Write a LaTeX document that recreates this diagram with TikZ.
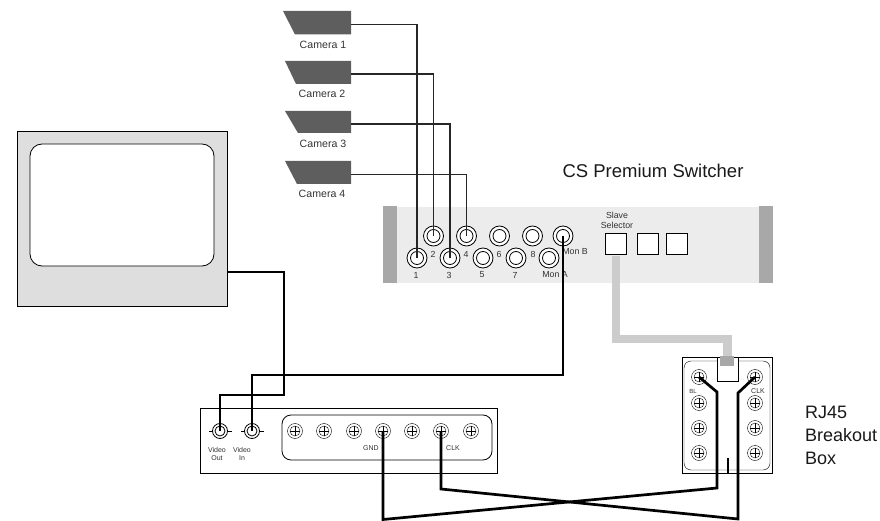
\documentclass[tikz,border=0pt]{standalone}
\usepackage{fontspec}
\setmainfont{Liberation Sans}
\usetikzlibrary{positioning,calc}
\definecolor{panelgray}{HTML}{ECECEC}
\definecolor{bargray}{HTML}{A8A8A8}
\definecolor{cablegray}{HTML}{CCCCCC}
\definecolor{camgray}{HTML}{5E5E5E}
\definecolor{tvgray}{HTML}{DEDEDE}
\begin{document}
\begin{tikzpicture}[x=1pt, y=-1pt, every node/.style={font=\fontsize{10.6}{12}\selectfont, text=black!80, inner sep=0pt, outer sep=0pt}]
\tikzset{jack/.style={draw, circle, thick, minimum size=20pt, fill=white, path picture={\draw (path picture bounding box.center) circle (6.5pt);}}}
\tikzset{screw/.style={draw, circle, minimum size=15pt, fill=white, path picture={\draw (path picture bounding box.center) circle (5pt); \draw ($(path picture bounding box.center)+(-5pt,0pt)$) -- ($(path picture bounding box.center)+(5pt,0pt)$); \draw ($(path picture bounding box.center)+(0pt,-5pt)$) -- ($(path picture bounding box.center)+(0pt,5pt)$);}}}
\tikzset{bnc/.style={draw, circle, thick, minimum size=15pt, fill=white, path picture={\draw (path picture bounding box.center) circle (5pt);}}}
\tikzset{cam/.style={fill=camgray}}
\tikzset{selbtn/.style={draw, thick, minimum width=21pt, minimum height=21pt, fill=white}}
\tikzset{wire/.style={draw, line width=1.3pt, black!85}}
\tikzset{fatwire/.style={draw, line width=2.7pt, black}}
\tikzset{small/.style={font=\fontsize{8.8}{10}\selectfont, align=center}}
\tikzset{tiny/.style={font=\fontsize{7}{8.5}\selectfont, align=center}}
\tikzset{big/.style={font=\fontsize{18}{23}\selectfont, text=black!90}}
\useasboundingbox (0,0) rectangle (880,521);
% monitor
\node[draw, thick, fill=tvgray, minimum width=210pt, minimum height=175pt, anchor=north west] (tv) at (17.5,131) {};
\node[draw, thick, fill=white, rounded corners=12pt, minimum width=184pt, minimum height=122pt, anchor=north west] (screen) at (30,144) {};
% cameras
\fill[cam] (283,11) -- (351,11) -- (351,34.5) -- (295,34.5) -- cycle;
\fill[cam] (285,61) -- (351,61) -- (351,84) -- (296,84) -- cycle;
\fill[cam] (285,111) -- (351,111) -- (351,133) -- (298,133) -- cycle;
\fill[cam] (285,161) -- (351,161) -- (351,184) -- (297,184) -- cycle;
\coordinate (cam1) at (351,24.5);
\coordinate (cam2) at (351,74);
\coordinate (cam3) at (351,124);
\coordinate (cam4) at (351,174.5);
\node (lab1) at (323,45) {Camera 1};
\node (lab2) at (322,94) {Camera 2};
\node (lab3) at (323,143.5) {Camera 3};
\node (lab4) at (322,194) {Camera 4};
% switcher panel
\node[fill=panelgray, minimum width=390pt, minimum height=76pt, anchor=north west] (panel) at (383,207) {};
\node[fill=bargray, minimum width=14pt, minimum height=77pt, anchor=north west] (barl) at (383,206) {};
\node[fill=bargray, minimum width=14pt, minimum height=77pt, anchor=north west] (barr) at (759,206) {};
\node[big, font=\fontsize{18.5}{23}\selectfont] (swname) at (653,171) {CS Premium Switcher};
\node[jack] (j1) at (417,258) {};
\node[jack, right=13pt of j1] (j3) {};
\node[jack, right=13pt of j3] (j5) {};
\node[jack, right=13pt of j5] (j7) {};
\node[jack, right=13pt of j7] (monA) {};
\node[jack] (j2) at (433.5,236) {};
\node[jack, right=13pt of j2] (j4) {};
\node[jack, right=13pt of j4] (j6) {};
\node[jack, right=13pt of j6] (j8) {};
\node[jack] (monB) at (563,236) {};
\node[small] (t1) at (416,275) {1};
\node[small] (t3) at (449,275) {3};
\node[small] (t5) at (482,275) {5};
\node[small] (t7) at (515,275) {7};
\node[small] (t2) at (433,254) {2};
\node[small] (t4) at (466,254) {4};
\node[small] (t6) at (499,254) {6};
\node[small] (t8) at (533,254) {8};
\node[small] (tA) at (555,275) {Mon A};
\node[small] (tB) at (575,252) {Mon B};
\node[small] (tsel) at (617,220) {Slave\\Selector};
\node[selbtn] (sel1) at (615.5,243.5) {};
\node[selbtn] (sel2) at (647.5,243.5) {};
\node[selbtn] (sel3) at (676.5,243.5) {};
% lower box
\node[draw, thick, fill=white, minimum width=297pt, minimum height=65pt, anchor=north west] (vbox) at (200,408) {};
\node[draw, thick, rounded corners=9pt, minimum width=210pt, minimum height=45pt, anchor=north west] (strip) at (282,415) {};
\node[bnc] (vout) at (220,431) {};
\node[bnc] (vin) at (252,431) {};
\draw (vout.west) -- ++(-4,0);
\draw (vout.east) -- ++(4,0);
\draw (vin.west) -- ++(-4,0);
\draw (vin.east) -- ++(4,0);
\node[tiny] (tout) at (217,454) {Video\\Out};
\node[tiny] (tin) at (242,454) {Video\\In};
\node[screw] (s1) at (295,431) {};
\node[screw] (s2) at (324,431) {};
\node[screw] (s3) at (354,431) {};
\node[screw] (gnd) at (383,431) {};
\node[screw] (s5) at (412,431) {};
\node[screw] (clk) at (441,431) {};
\node[screw] (s7) at (471,431) {};
\node[tiny] (tgnd) at (371,448) {GND};
\node[tiny] (tclk) at (453,448) {CLK};
% breakout box
\node[draw, thick, fill=white, minimum width=90pt, minimum height=116pt, anchor=north west] (rj) at (682,357) {};
\node[draw, rounded corners=7pt, minimum width=86pt, minimum height=109pt, anchor=north west] (rjin) at (684,361) {};
\node[screw] (b1) at (699,377) {};
\node[screw] (b2) at (699,403) {};
\node[screw] (b3) at (699,428) {};
\node[screw] (b4) at (699,453) {};
\node[screw] (c1) at (755,377) {};
\node[screw] (c2) at (755,403) {};
\node[screw] (c3) at (755,428) {};
\node[screw] (c4) at (755,453) {};
\node[tiny, font=\fontsize{6}{7}\selectfont] (tbl) at (693,391) {BL};
\node[tiny] (tck) at (758,391) {CLK};
\node[draw, fill=white, minimum width=21pt, minimum height=24pt, anchor=north west] (plug) at (717,357) {};
\coordinate (cablestart) at (616,256);
\draw[line width=8.5pt, cablegray] (cablestart) -- (616,339) -| (plug.north);
\node[fill=bargray, minimum width=14pt, minimum height=10pt, anchor=north] (tab) at (727,356) {};
\node[big, align=left, anchor=west] (rjname) at (805,435) {RJ45\\Breakout\\Box};
% wires
\draw[wire] (cam1) -| (j1.center);
\draw[wire] (cam2) -| (j2.center);
\draw[wire] (cam3) -| (j3.center);
\draw[wire] (cam4) -| (j4.center);
\draw[fatwire] (monB.center) -- ++(0,139) -| (vin.center);
\draw[fatwire] (227,272) -- (284,272) -- (284,395) -| (vout.center);
\draw[fatwire] (gnd.center) -- (383,519.5) -- (717,488) -- (717,392) -- (b1.center);
\draw[fatwire] (clk.center) -- (441,489) -- (738,519) -- (738,393) -- (c1.center);
\draw[line width=2.7pt] (728,458) -- (728,473);
\end{tikzpicture}
\end{document}
